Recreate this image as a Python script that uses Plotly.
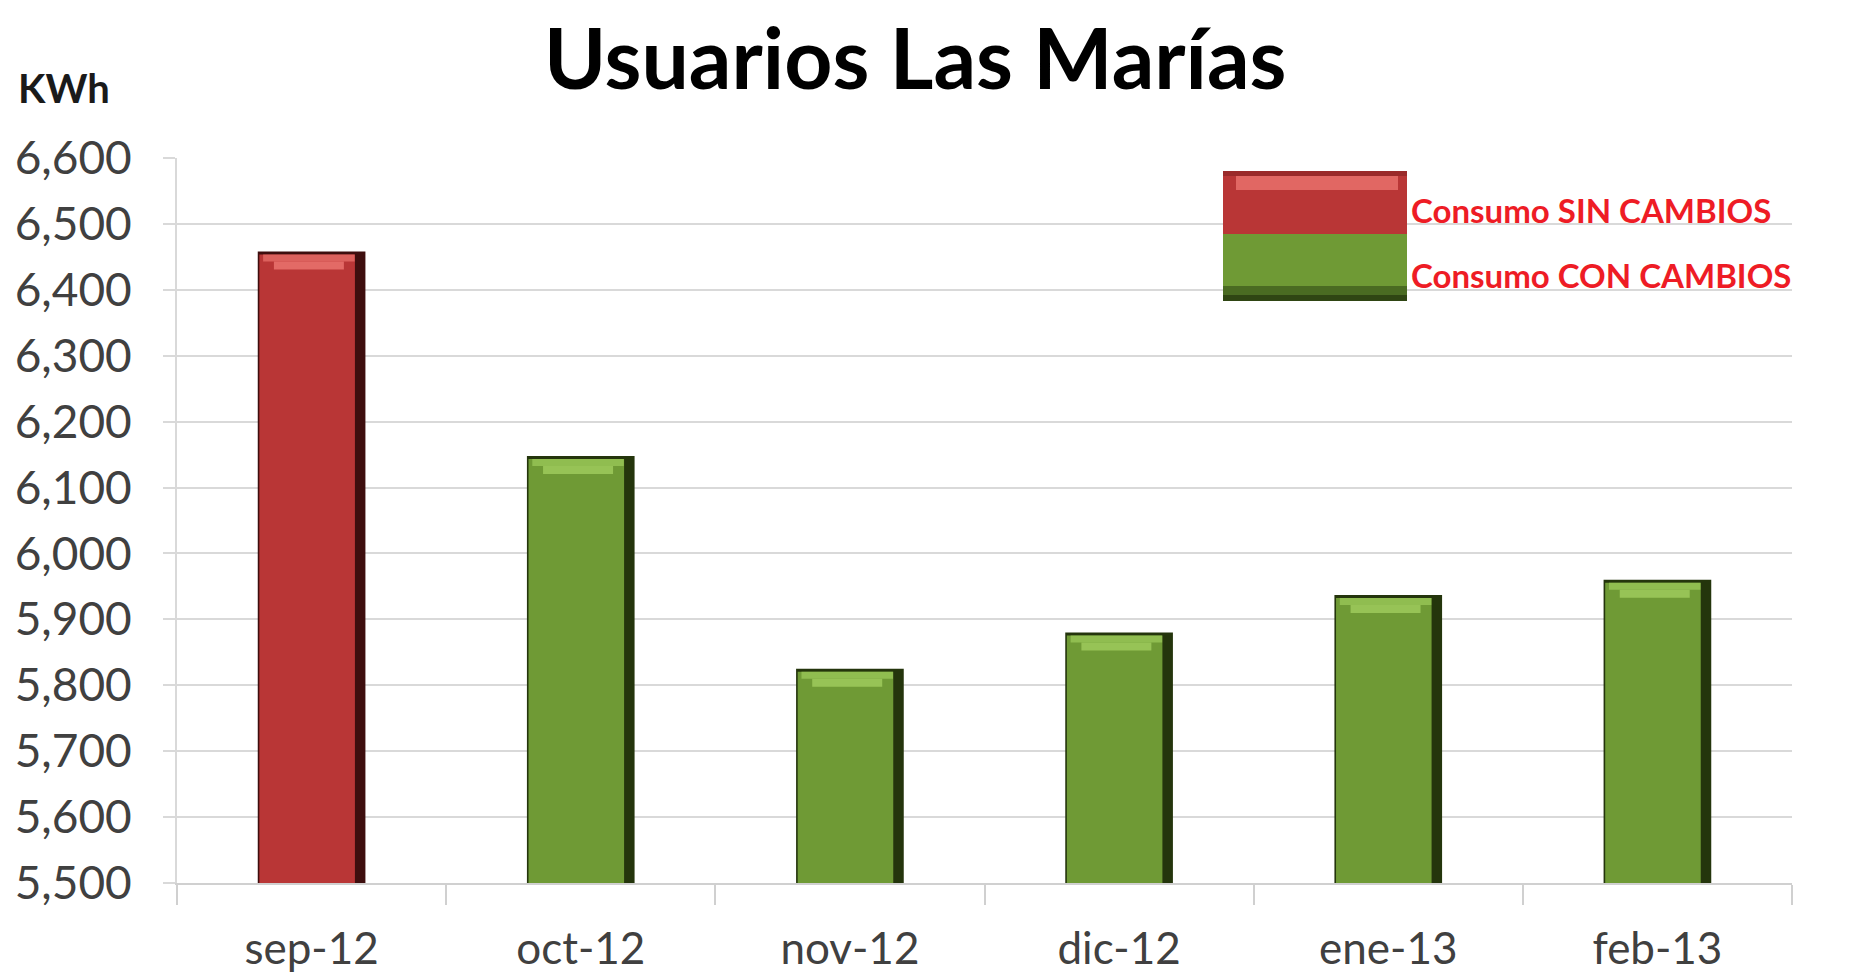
import plotly.graph_objects as go

# ---- data ----
months = ["sep-12", "oct-12", "nov-12", "dic-12", "ene-13", "feb-13"]
consumo = [6458, 6148, 5825, 5880, 5937, 5960]
grupo = ["SIN", "CON", "CON", "CON", "CON", "CON"]
y_ticks = [5500, 5600, 5700, 5800, 5900, 6000, 6100, 6200, 6300, 6400, 6500, 6600]
title_text = "Usuarios Las Marías"
unit_text = "KWh"
legend_labels = ["Consumo SIN CAMBIOS", "Consumo CON CAMBIOS"]

# ---- styles ----
W, H = 1849, 974
L, R, T, B = 177, 57, 158, 91
FONT = "Lato"
main_col = {"SIN": "#b93636", "CON": "#6f9a35"}
dark_col = {"SIN": "#3e0e0e", "CON": "#24350c"}
light_col = {"SIN": "#e8706b", "CON": "#9bc85a"}
ymin, ymax = y_ticks[0], y_ticks[-1]
units_per_px = (ymax - ymin) / (H - T - B)

fig = go.Figure()
bw = 0.40
# dark body (edges)
fig.add_trace(go.Bar(
    x=months, y=[v - ymin for v in consumo], base=ymin, width=bw,
    marker=dict(color=[dark_col[g] for g in grupo], line=dict(width=0)),
    showlegend=False, hoverinfo="skip"))
# main face
fig.add_trace(go.Bar(
    x=months, y=[v - ymin - 3 * units_per_px for v in consumo], base=ymin,
    width=bw - 0.045, offset=-bw / 2 + 0.006,
    marker=dict(color=[main_col[g] for g in grupo], line=dict(width=0)),
    showlegend=False, hovertemplate="%{x}: %{y:,}<extra></extra>"))
# top highlight bevel (two layers to suggest a trapezoid)
fig.add_trace(go.Bar(
    x=months, y=[7 * units_per_px for v in consumo],
    base=[v - 10 * units_per_px for v in consumo],
    width=bw - 0.06, offset=-bw / 2 + 0.02,
    marker=dict(color=[light_col[g] for g in grupo], line=dict(width=0), opacity=0.75),
    showlegend=False, hoverinfo="skip"))
fig.add_trace(go.Bar(
    x=months, y=[8 * units_per_px for v in consumo],
    base=[v - 18 * units_per_px for v in consumo],
    width=bw - 0.14, offset=-bw / 2 + 0.06,
    marker=dict(color=[light_col[g] for g in grupo], line=dict(width=0), opacity=0.9),
    showlegend=False, hoverinfo="skip"))

fig.update_layout(
    width=W, height=H, barmode="overlay",
    margin=dict(l=L, r=R, t=T, b=B, autoexpand=False),
    plot_bgcolor="white", paper_bgcolor="white",
    font=dict(family=FONT, color="#404040"),
    xaxis=dict(
        type="category", tickson="boundaries", ticks="outside", ticklen=20,
        tickcolor="#d0d0d0", tickwidth=2, showline=True, linecolor="#d0d0d0",
        linewidth=2, showgrid=False, tickfont=dict(size=44, color="#404040"),
        ticklabelstandoff=26),
    yaxis=dict(
        range=[ymin, ymax], tickvals=y_ticks, tickformat=",d",
        ticks="outside", ticklen=12, tickcolor="#d9d9d9", tickwidth=2,
        showline=True, linecolor="#d9d9d9", linewidth=2,
        gridcolor="#d9d9d9", gridwidth=2, zeroline=False,
        tickfont=dict(size=46, color="#404040"), ticklabelstandoff=22),
)

# title and unit label
fig.add_annotation(text="<b>" + title_text + "</b>", xref="paper", yref="paper",
                   x=(915 - L) / (W - L - R), y=(H - B - 56) / (H - T - B),
                   xanchor="center", yanchor="middle", showarrow=False,
                   font=dict(family=FONT, size=84, color="#000000"))
fig.add_annotation(text="<b>" + unit_text + "</b>", xref="paper", yref="paper",
                   x=(16 - L) / (W - L - R), y=(H - B - 88) / (H - T - B),
                   xanchor="left", yanchor="middle", showarrow=False,
                   font=dict(family=FONT, size=40, color="#1a1a1a"))

# custom legend block
def px_x(px):
    return (px - L) / (W - L - R)

def px_y(py):
    return (H - B - py) / (H - T - B)

x0, x1 = px_x(1223), px_x(1407)
ytop, ymid, ybot = px_y(171), px_y(234), px_y(301)
fig.add_shape(type="rect", xref="paper", yref="paper", x0=x0, x1=x1, y0=ymid, y1=ytop,
              fillcolor=main_col["SIN"], line=dict(width=0))
fig.add_shape(type="rect", xref="paper", yref="paper", x0=x0, x1=x1, y0=ybot, y1=ymid,
              fillcolor=main_col["CON"], line=dict(width=0))
fig.add_shape(type="rect", xref="paper", yref="paper", x0=x0, x1=x1, y0=px_y(176), y1=ytop,
              fillcolor="#9a2a2a", line=dict(width=0))
fig.add_shape(type="rect", xref="paper", yref="paper", x0=px_x(1236), x1=px_x(1398), y0=px_y(190), y1=px_y(176),
              fillcolor=light_col["SIN"], line=dict(width=0), opacity=0.85)
fig.add_shape(type="rect", xref="paper", yref="paper", x0=x0, x1=x1, y0=ybot, y1=px_y(286),
              fillcolor="#4a6b22", line=dict(width=0))
fig.add_shape(type="rect", xref="paper", yref="paper", x0=x0, x1=x1, y0=ybot, y1=px_y(295),
              fillcolor="#2f4513", line=dict(width=0))
for lbl, py in zip(legend_labels, [210, 275]):
    fig.add_annotation(text="<b>" + lbl + "</b>", xref="paper", yref="paper",
                       x=px_x(1409), y=px_y(py), xanchor="left", yanchor="middle",
                       showarrow=False, font=dict(family=FONT, size=33, color="#ee1c25"))

fig.write_html("out.html", config={"displayModeBar": False},
               post_script="document.body.style.margin='0';document.body.style.overflow='hidden';")
